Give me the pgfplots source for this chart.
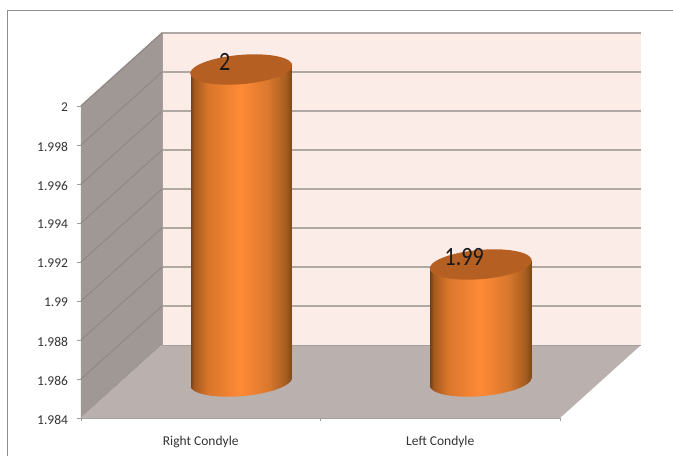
\documentclass[border=0pt]{standalone}
\usepackage{fontspec}
\setmainfont{Carlito}
\usepackage{pgfplots}
\usepackage{pgfplotstable}
\usepgflibrary{fpu}
\pgfplotsset{compat=1.18}

\definecolor{frameline}{HTML}{8E8E8E}
\definecolor{backwall}{HTML}{FBECE8}
\definecolor{sidewall}{HTML}{A09894}
\definecolor{floorfill}{HTML}{BAB0AD}
\definecolor{gridback}{HTML}{B0A8A4}
\definecolor{gridside}{HTML}{8C8581}
\definecolor{axisline}{HTML}{A0A0A0}
\definecolor{captop}{HTML}{B55F23}

% Side of the cylinder, lit from the middle: 102bp wide, tall enough for any bar
\pgfdeclarehorizontalshading{condylebody}{480bp}{
  rgb(0bp)=(0.42,0.23,0.08);
  rgb(4bp)=(0.64,0.35,0.12);
  rgb(18bp)=(0.85,0.46,0.17);
  rgb(50bp)=(1.00,0.54,0.21);
  rgb(78bp)=(0.85,0.47,0.18);
  rgb(95bp)=(0.66,0.37,0.13);
  rgb(102bp)=(0.48,0.27,0.09)}

% Cylinder drawn from its data point down to the floor: 19500pt per y unit,
% standing halfway back on the floor (40.5pt right, 36.5pt up).
\pgfdeclareplotmark{condyle}{%
  \begingroup
    \pgfkeys{/pgf/fpu=true,/pgf/fpu/output format=fixed}%
    \pgfmathparse{(\val-1.984)*19500}%
    \xdef\cylh{\pgfmathresult}%
  \endgroup
  \pgfmathsetmacro\cylr{3.96-\cylh}%
  \pgfmathsetmacro\cyll{-3.96-\cylh}%
  \pgfmathsetmacro\cylc{-\cylh}%
  \pgftransformshift{\pgfpoint{40.5pt}{36.5pt}}%
  \begin{pgfscope}%
    \pgfpathellipse{\pgfpoint{0pt}{\cylc pt}}{\pgfpoint{49.6pt}{0.4pt}}{\pgfpoint{12pt}{15.2pt}}%
    \pgfusepath{clip}%
    \pgftext[at={\pgfpoint{0pt}{-160pt}}]{\pgfuseshading{condylebody}}%
  \end{pgfscope}%
  \begin{pgfscope}%
    \pgfpathmoveto{\pgfpoint{-51pt}{-3.96pt}}%
    \pgfpathlineto{\pgfpoint{51pt}{3.96pt}}%
    \pgfpathlineto{\pgfpoint{51pt}{\cylr pt}}%
    \pgfpathlineto{\pgfpoint{-51pt}{\cyll pt}}%
    \pgfpathclose
    \pgfusepath{clip}%
    \pgftext[at={\pgfpoint{0pt}{-160pt}}]{\pgfuseshading{condylebody}}%
  \end{pgfscope}%
  \pgfsetfillcolor{captop}%
  \pgfpathellipse{\pgfpointorigin}{\pgfpoint{49.6pt}{0.4pt}}{\pgfpoint{12pt}{15.2pt}}%
  \pgfusepath{fill}%
}

\pgfplotstableread{
pos value
1 2
2 1.99
}\condyles

\begin{document}
\begin{tikzpicture}
\path[use as bounding box] (0pt,0pt) rectangle (673pt,456pt);
\draw[frameline,line width=1pt] (7.5pt,0pt) -- (7.5pt,445.5pt) -- (673pt,445.5pt);
\begin{axis}[
  at={(81pt,38pt)}, anchor=south west,
  scale only axis, width=479pt, height=312pt,
  xmin=0.5, xmax=2.5, ymin=1.984, ymax=2,
  clip=false,
  axis x line*=bottom, axis y line*=left,
  axis line style={draw=axisline,line width=0.9pt,-},
  tick style={draw=axisline,line width=0.8pt},
  tick align=outside, major tick length=3.5pt,
  xtick={0.5,1.5,2.5}, xticklabels={},
  extra x ticks={1,2},
  extra x tick labels={Right Condyle,Left Condyle},
  extra x tick style={major tick length=0pt,
    tick label style={font=\fontsize{13.5}{15}\selectfont,text=black!80,yshift=-14.5pt}},
  ytick={1.984,1.986,1.988,1.99,1.992,1.994,1.996,1.998,2},
  scaled y ticks=false,
  yticklabel style={font=\fontsize{13.5}{15}\selectfont,text=black!80,xshift=-6pt,yshift=-1.5pt,
    /pgf/number format/fixed,/pgf/number format/precision=3,
    /pgf/number format/assume math mode=true},
]
% Walls and floor of the chart box
\fill[backwall] (axis cs:0.5,1.984) ++(81pt,73pt) rectangle ++(479pt,313pt);
\fill[sidewall] (axis cs:0.5,1.984) -- ++(81pt,73pt) -- ++(0pt,313pt) -- ++(-81pt,-73pt) -- cycle;
\fill[floorfill] (axis cs:0.5,1.984) -- ++(81pt,73pt) -- ++(479pt,0pt) -- ++(-81pt,-73pt) -- cycle;
% Gridlines running round the side wall and along the back
\pgfplotsinvokeforeach{1.986,1.988,1.99,1.992,1.994,1.996,1.998,2}{
  \draw[gridside,line width=0.8pt] (axis cs:0.5,#1) -- ++(81pt,73pt);
  \draw[gridback,line width=1.4pt] (axis cs:0.5,#1) ++(81pt,73pt) -- ++(479pt,0pt);
}
\draw[floorfill!90!black,line width=1pt] (axis cs:0.5,1.984) ++(81pt,73pt) -- ++(479pt,0pt);
\draw[floorfill!90!black,line width=0.8pt] (axis cs:0.5,1.984) ++(81pt,73pt) -- ++(0pt,313pt);
\addplot[scatter, only marks, mark=condyle,
  visualization depends on={y \as \val}]
  table[x=pos,y=value] {\condyles};
\addplot[only marks, mark=none, draw=none,
  nodes near coords,
  /pgf/number format/assume math mode=true,
  every node near coord/.append style={anchor=center,
    font=\fontsize{22}{24}\selectfont, yscale=1.2, text=black!90,
    xshift=24pt, yshift=37pt}]
  table[x=pos,y=value] {\condyles};
\end{axis}
\end{tikzpicture}
\end{document}
